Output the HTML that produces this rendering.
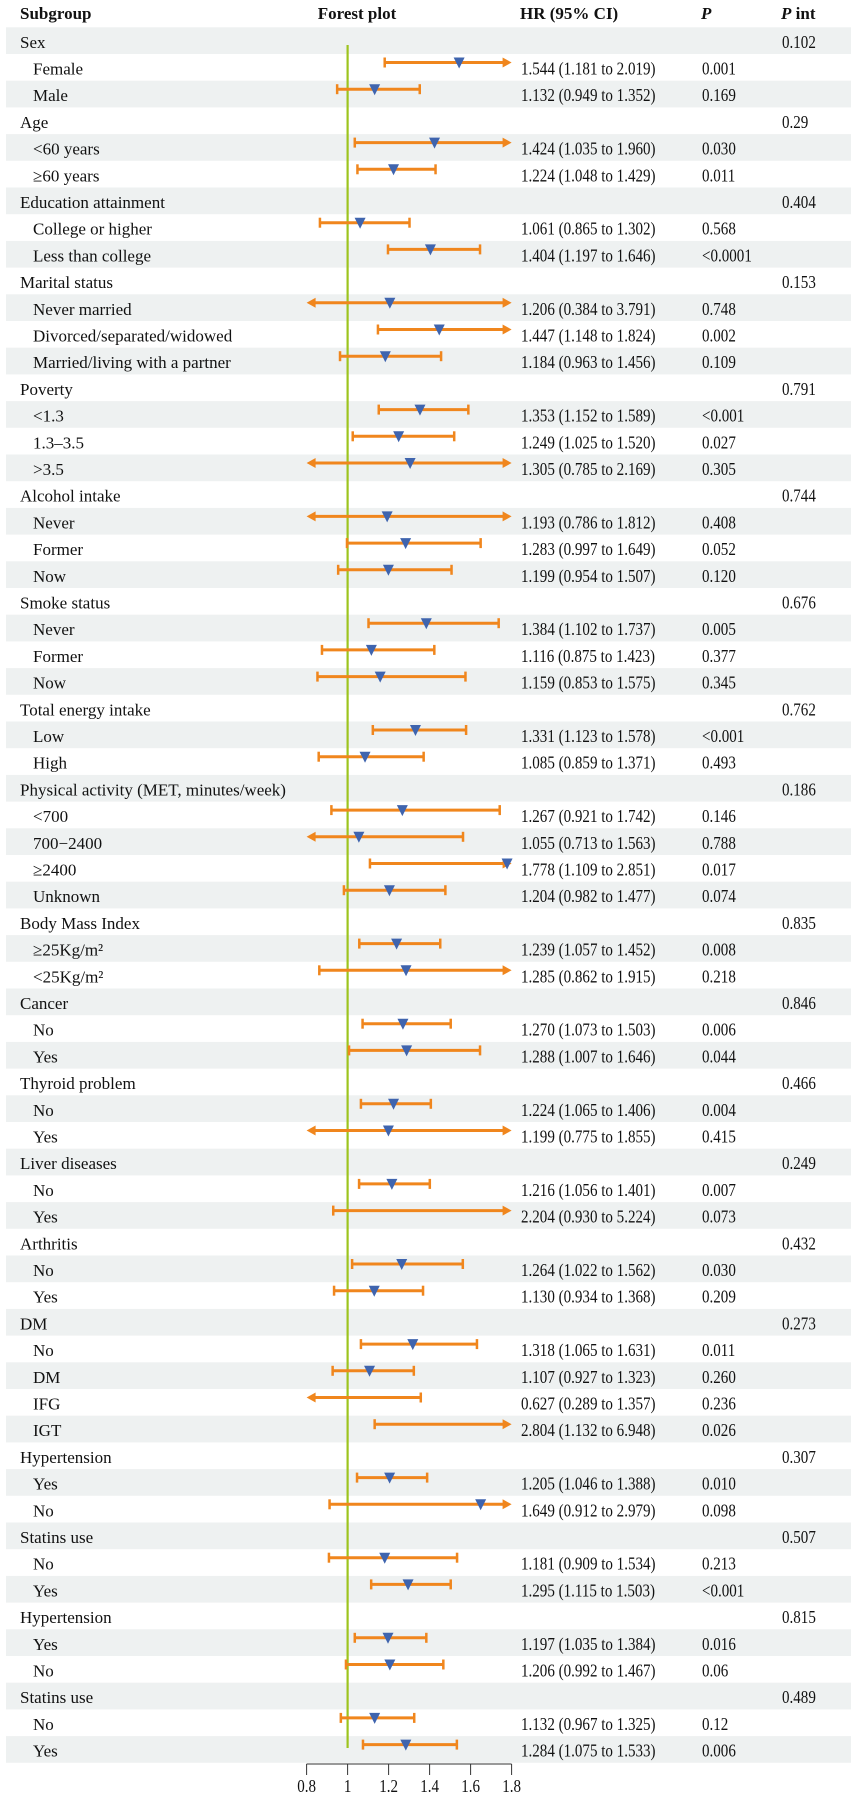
<!DOCTYPE html>
<html><head><meta charset="utf-8"><style>
html,body{margin:0;padding:0;background:#fff;}
svg{display:block;font-family:"Liberation Serif",serif;}
</style></head><body>
<svg id="chart" width="851" height="1797" viewBox="0 0 851 1797" xmlns="http://www.w3.org/2000/svg">
<g id="bands"></g>
<g id="header"></g>
<g id="refline"></g>
<g id="rows"></g>
<g id="axis"></g>
</svg>
<script>
const labels=["Sex","Female","Male","Age","<60 years","≥60 years","Education attainment","College or higher","Less than college","Marital status","Never married","Divorced/separated/widowed","Married/living with a partner","Poverty","<1.3","1.3–3.5",">3.5","Alcohol intake","Never","Former","Now","Smoke status","Never","Former","Now","Total energy intake","Low","High","Physical activity (MET, minutes/week)","<700","700−2400","≥2400","Unknown","Body Mass Index","≥25Kg/m²","<25Kg/m²","Cancer","No","Yes","Thyroid problem","No","Yes","Liver diseases","No","Yes","Arthritis","No","Yes","DM","No","DM","IFG","IGT","Hypertension","Yes","No","Statins use","No","Yes","Hypertension","Yes","No","Statins use","No","Yes"];
const isGroup=[1,0,0,1,0,0,1,0,0,1,0,0,0,1,0,0,0,1,0,0,0,1,0,0,0,1,0,0,1,0,0,0,0,1,0,0,1,0,0,1,0,0,1,0,0,1,0,0,1,0,0,0,0,1,0,0,1,0,0,1,0,0,1,0,0];
const hr=[null,1.544,1.132,null,1.424,1.224,null,1.061,1.404,null,1.206,1.447,1.184,null,1.353,1.249,1.305,null,1.193,1.283,1.199,null,1.384,1.116,1.159,null,1.331,1.085,null,1.267,1.055,1.778,1.204,null,1.239,1.285,null,1.270,1.288,null,1.224,1.199,null,1.216,2.204,null,1.264,1.130,null,1.318,1.107,0.627,2.804,null,1.205,1.649,null,1.181,1.295,null,1.197,1.206,null,1.132,1.284];
const lo=[null,1.181,0.949,null,1.035,1.048,null,0.865,1.197,null,0.384,1.148,0.963,null,1.152,1.025,0.785,null,0.786,0.997,0.954,null,1.102,0.875,0.853,null,1.123,0.859,null,0.921,0.713,1.109,0.982,null,1.057,0.862,null,1.073,1.007,null,1.065,0.775,null,1.056,0.930,null,1.022,0.934,null,1.065,0.927,0.289,1.132,null,1.046,0.912,null,0.909,1.115,null,1.035,0.992,null,0.967,1.075];
const hi=[null,2.019,1.352,null,1.960,1.429,null,1.302,1.646,null,3.791,1.824,1.456,null,1.589,1.520,2.169,null,1.812,1.649,1.507,null,1.737,1.423,1.575,null,1.578,1.371,null,1.742,1.563,2.851,1.477,null,1.452,1.915,null,1.503,1.646,null,1.406,1.855,null,1.401,5.224,null,1.562,1.368,null,1.631,1.323,1.357,6.948,null,1.388,2.979,null,1.534,1.503,null,1.384,1.467,null,1.325,1.533];
const pvals=["","0.001","0.169","","0.030","0.011","","0.568","<0.0001","","0.748","0.002","0.109","","<0.001","0.027","0.305","","0.408","0.052","0.120","","0.005","0.377","0.345","","<0.001","0.493","","0.146","0.788","0.017","0.074","","0.008","0.218","","0.006","0.044","","0.004","0.415","","0.007","0.073","","0.030","0.209","","0.011","0.260","0.236","0.026","","0.010","0.098","","0.213","<0.001","","0.016","0.06","","0.12","0.006"];
const pint=["0.102","","","0.29","","","0.404","","","0.153","","","","0.791","","","","0.744","","","","0.676","","","","0.762","","","0.186","","","","","0.835","","","0.846","","","0.466","","","0.249","","","0.432","","","0.273","","","","","0.307","","","0.507","","","0.815","","","0.489","",""];
const ticks=[0.8,1,1.2,1.4,1.6,1.8];

const NS="http://www.w3.org/2000/svg";
const X0=306.6,X1=511.6,VMIN=0.8,VMAX=1.8;
function xs(v){return X0+(v-VMIN)/(VMAX-VMIN)*(X1-X0);}
const TOP=27.3,RH=26.7,SX=0.86;
function rowTop(i){return TOP+i*RH;}
function mk(tag,attrs,parent){const e=document.createElementNS(NS,tag);for(const k in attrs)e.setAttribute(k,attrs[k]);parent.appendChild(e);return e;}
function numText(parent,x,y,str,anchor){const t=mk('text',{x:0,y:0,'font-size':17.5,fill:TXT,transform:`translate(${x},${y}) scale(${SX},1)`},parent);if(anchor)t.setAttribute('text-anchor',anchor);t.textContent=str;return t;}
const ORANGE="#F0861D",BLUE="#3F64AE",GREEN="#9DC41E",TXT="#111";
const bands=document.getElementById('bands'),header=document.getElementById('header'),rowsG=document.getElementById('rows'),axisG=document.getElementById('axis'),refG=document.getElementById('refline');

const heads=[["Subgroup",20,"start"],["Forest plot",357,"middle"],["HR (95% CI)",520,"start"],["P",701,"start"],["P int",781,"start"]];
heads.forEach(h=>{const t=mk('text',{x:h[1],y:19,'font-size':17,'font-weight':'bold','text-anchor':h[2],fill:TXT},header);
if(h[0]==="P"){t.setAttribute('font-style','italic');t.textContent="P";}
else if(h[0]==="P int"){const a=mk('tspan',{'font-style':'italic'},t);a.textContent="P";const b=mk('tspan',{},t);b.textContent=" int";}
else t.textContent=h[0];

});

labels.forEach((l,i)=>{if(i%2===0){const r=mk('rect',{x:6,y:rowTop(i),width:845,height:RH,fill:'#EEF1F1'},bands);

}});

const rl=mk('line',{x1:xs(1),x2:xs(1),y1:45,y2:1748,stroke:GREEN,'stroke-width':2.2},refG);



labels.forEach((l,i)=>{
  const y=rowTop(i);
  const g=mk('g',{},rowsG);
  
  
  const t=mk('text',{x:isGroup[i]?20:33,y:y+20.5,'font-size':17,fill:TXT},g);t.textContent=l;
  
  
  if(pint[i]){const p=numText(g,782,y+20.5,pint[i]);
    
    }
  if(hr[i]!==null){
    const ht=numText(g,521,y+20.5,hr[i].toFixed(3)+" ("+lo[i].toFixed(3)+" to "+hi[i].toFixed(3)+")");
    
    
    const pt=numText(g,702,y+20.5,pvals[i]);
    
    
    const ly=y+8.5;
    const cl=Math.max(lo[i],VMIN),ch=Math.min(hi[i],VMAX);
    const xa=xs(cl),xb=xs(ch);
    const ln=mk('line',{x1:xa+(lo[i]<VMIN?6:0),x2:xb-(hi[i]>VMAX?6:0),y1:ly,y2:ly,stroke:ORANGE,'stroke-width':3},g);
    
    
    if(lo[i]<VMIN){const a=mk('polygon',{points:`${xa},${ly} ${xa+9},${ly-5} ${xa+9},${ly+5}`,fill:ORANGE},g);
      
      }
    else{const c=mk('line',{x1:xa,x2:xa,y1:ly-5,y2:ly+5,stroke:ORANGE,'stroke-width':2.5},g);
      
      }
    if(hi[i]>VMAX){const a=mk('polygon',{points:`${xb},${ly} ${xb-9},${ly-5} ${xb-9},${ly+5}`,fill:ORANGE},g);
      
      }
    else{const c=mk('line',{x1:xb,x2:xb,y1:ly-5,y2:ly+5,stroke:ORANGE,'stroke-width':2.5},g);
      
      }
    if(hr[i]>=VMIN&&hr[i]<=VMAX){const xm=xs(hr[i]);
      const m=mk('polygon',{points:`${xm-5.5},${ly-5} ${xm+5.5},${ly-5} ${xm},${ly+6}`,fill:BLUE},g);
      
      }
  }
});

const ay=1764;
const al=mk('line',{x1:xs(VMIN),x2:xs(VMAX),y1:ay,y2:ay,stroke:'#333','stroke-width':1},axisG);


ticks.forEach(v=>{
  const tl=mk('line',{x1:xs(v),x2:xs(v),y1:ay,y2:ay+11,stroke:'#333','stroke-width':1},axisG);
  
  
  const tt=numText(axisG,xs(v),1792,String(v),'middle');
  
  
});
</script>
</body></html>
